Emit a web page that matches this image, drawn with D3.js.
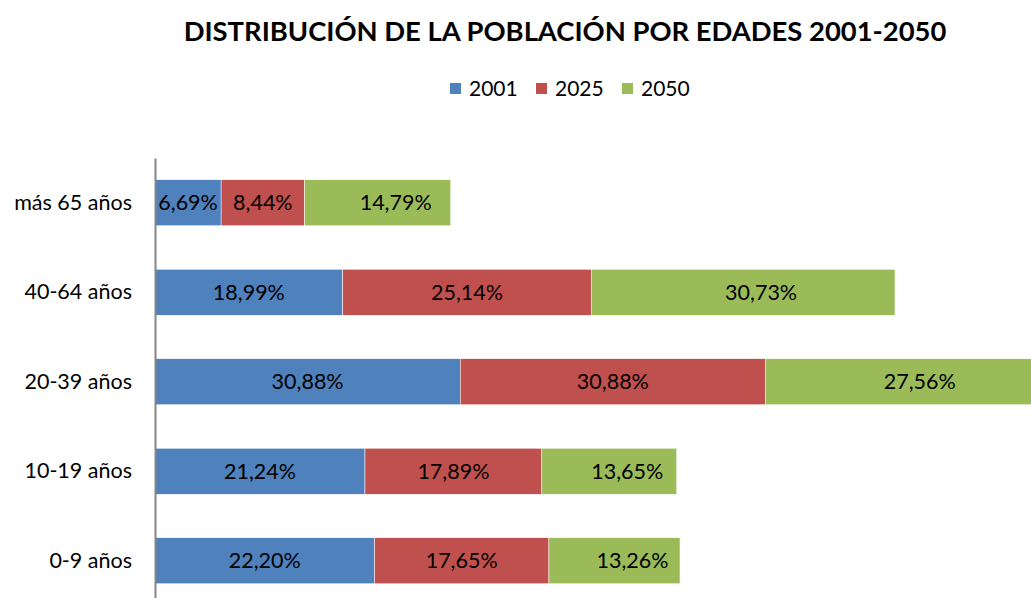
<!DOCTYPE html>
<html>
<head>
<meta charset="utf-8">
<script src="https://cdn.jsdelivr.net/npm/d3@7"></script>
<style>
  body { margin: 0; background: #fff; }
  svg { display: block; font-family: Lato, "Open Sans", sans-serif; }
</style>
</head>
<body>
<svg class="js-chart"></svg>
<script>
var categories = ["más 65 años", "40-64 años", "20-39 años", "10-19 años", "0-9 años"];
var seriesNames = ["2001", "2025", "2050"];
var values2001 = [6.69, 18.99, 30.88, 21.24, 22.20];
var values2025 = [8.44, 25.14, 30.88, 17.89, 17.65];
var values2050 = [14.79, 30.73, 27.56, 13.65, 13.26];
var colors = ["#4F81BD", "#C0504D", "#9BBB59"];
var title = "DISTRIBUCIÓN DE LA POBLACIÓN POR EDADES 2001-2050";

var width = 1031, height = 598;
var svg = d3.select(".js-chart").attr("width", width).attr("height", height);

var rows = categories.map(function (c, i) {
    return { cat: c, "2001": values2001[i], "2025": values2025[i], "2050": values2050[i] };
});
var stacked = d3.stack().keys(seriesNames)(rows);

var x = d3.scaleLinear().domain([0, 100]).range([155, 155 + 988.5]);
var y = d3.scaleBand().domain(categories).range([158, 605.5])
    .paddingInner(0.486).paddingOuter(0.243);

var fmt = function (v) { return v.toFixed(2).replace(".", ",") + "%"; };

// title
svg.append("text")
    .attr("x", 565).attr("y", 41)
    .attr("text-anchor", "middle")
    .style("font-size", "27.4px").style("font-weight", "bold")
    .text(title);

// legend
var legendX = [450, 536, 622];
var legend = svg.append("g").selectAll("g").data(seriesNames).enter().append("g")
    .attr("transform", function (d, i) { return "translate(" + legendX[i] + ",83)"; });
legend.append("rect").attr("width", 11).attr("height", 11)
    .attr("fill", function (d, i) { return colors[i]; });
legend.append("text").attr("x", 19).attr("y", 12.5)
    .style("font-size", "21px").text(String);

// bars
var layers = svg.append("g").selectAll("g").data(stacked).enter().append("g")
    .attr("fill", function (d, i) { return colors[i]; });

layers.selectAll("rect").data(function (d) { return d; }).enter().append("rect")
    .attr("x", function (d) { return x(d[0]); })
    .attr("y", function (d) { return y(d.data.cat); })
    .attr("width", function (d) { return x(d[1]) - x(d[0]); })
    .attr("height", y.bandwidth())
    .attr("stroke", "#fff").attr("stroke-width", 0.5);

layers.selectAll("text").data(function (d) { return d.map(function (p) { p.key = d.key; return p; }); })
    .enter().append("text")
    .attr("x", function (d) { return (x(d[0]) + x(d[1])) / 2 + (d.key === "2050" ? 18 : 0); })
    .attr("y", function (d) { return y(d.data.cat) + y.bandwidth() / 2; })
    .attr("dy", "0.35em")
    .attr("text-anchor", "middle")
    .attr("fill", "#000")
    .style("font-size", "21.5px")
    .text(function (d) { return fmt(d[1] - d[0]); });

// category axis
var yAxis = svg.append("g")
    .attr("transform", "translate(155,0)")
    .call(d3.axisLeft(y).tickSize(0).tickPadding(23));
yAxis.select(".domain").attr("stroke", "#868686").attr("stroke-width", 2);
yAxis.selectAll("text").style("font-size", "21.5px")
    .style("font-family", "Lato, 'Open Sans', sans-serif").attr("fill", "#000");
</script>
</body>
</html>
